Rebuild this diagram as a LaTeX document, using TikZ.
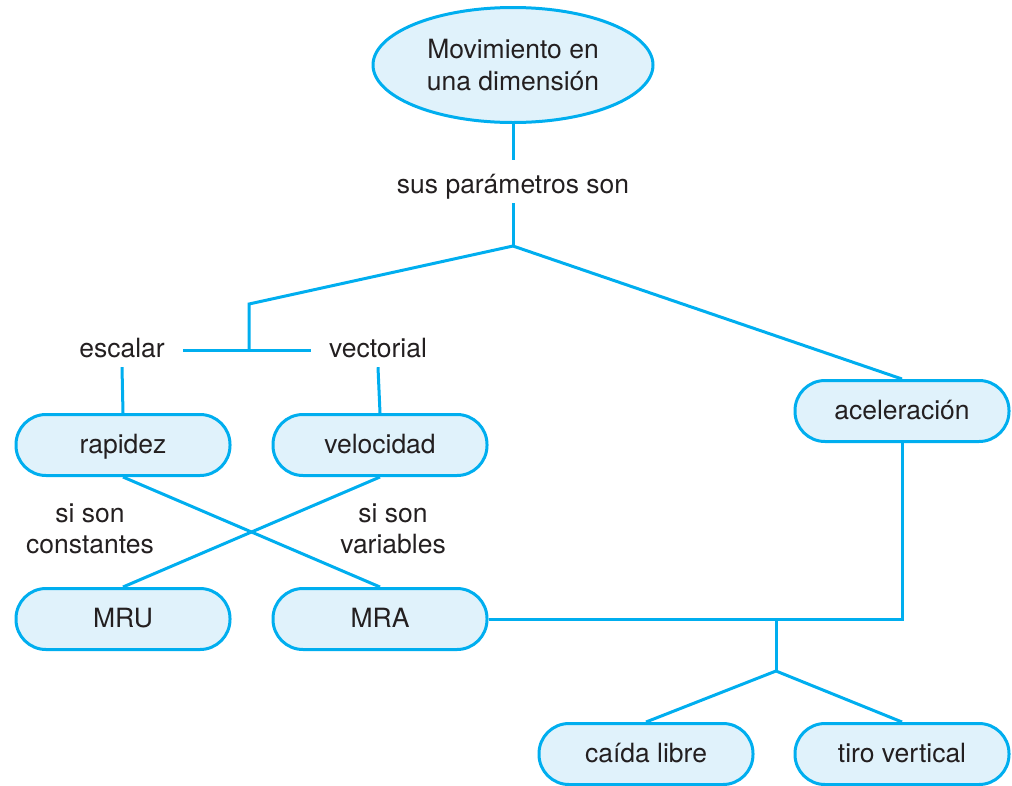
\documentclass[tikz,border=0pt]{standalone}
\usepackage{fontspec}
\setmainfont{TeX Gyre Heros}
\usetikzlibrary{shapes.geometric}
\definecolor{cline}{RGB}{0,174,239}
\definecolor{cfill}{RGB}{224,242,251}
\definecolor{ctext}{RGB}{35,31,32}
\begin{document}
\begin{tikzpicture}[x=1pt,y=-1pt,
  font=\fontsize{26.5}{31.5}\selectfont, text=ctext,
  conn/.style={draw=cline, line width=3pt},
  pill/.style={draw=cline, fill=cfill, line width=3pt, rounded corners=30pt,
    minimum width=214pt, minimum height=61pt, inner sep=0pt,
    text height=23pt, text depth=6pt},
  oval/.style={ellipse, draw=cline, fill=cfill, line width=3pt,
    minimum width=280pt, minimum height=115pt, inner sep=0pt, align=center},
  lbl/.style={inner xsep=18pt, inner ysep=3.5pt, text height=20pt,
    text depth=6.5pt, anchor=base},
  note/.style={align=center, inner sep=0pt}]
\useasboundingbox (0,0) rectangle (1012,785);

\node[oval] (ell) at (513,65) {Movimiento en\\una dimensión};
\node[lbl, text height=29pt] (sus) at (513,193) {sus parámetros son};
\coordinate (j1) at (513,246);
\coordinate (j2) at (249,304);
\node[lbl] (esc) at (122,357) {escalar};
\node[lbl] (vec) at (378,357) {vectorial};

\node[pill] (rap) at (123,445) {rapidez};
\node[pill] (vel) at (380,445) {velocidad};
\node[pill] (acel) at (902,411) {aceleración};
\node[pill] (mru) at (123,619) {MRU};
\node[pill] (mra) at (380,619) {MRA};
\node[pill] (caida) at (646,754) {caída libre};
\node[pill] (tiro) at (902,754) {tiro vertical};

\node[note] (cons) at (90,529) {si son\\constantes};
\node[note] (vari) at (393,529) {si son\\variables};

\coordinate (j3) at (776,619);
\coordinate (j4) at (776,671);

\draw[conn] (ell.south) -- (sus.north);
\draw[conn] (sus.south) -- (j1);
\draw[conn] (j1) -- (j2) -- (j2 |- esc.east);
\draw[conn] (esc.east) -- (vec.west);
\draw[conn] (j1) -- (acel.north);
\draw[conn] (esc.south) -- (rap.north);
\draw[conn] (vec.south) -- (vel.north);
\draw[conn] (rap.south) -- (mra.north);
\draw[conn] (vel.south) -- (mru.north);
\draw[conn] (mra.east) -- (acel.south |- mra.east) -- (acel.south);
\draw[conn] (j3) -- (j4);
\draw[conn] (j4) -- (caida.north);
\draw[conn] (j4) -- (tiro.north);
\end{tikzpicture}
\end{document}
